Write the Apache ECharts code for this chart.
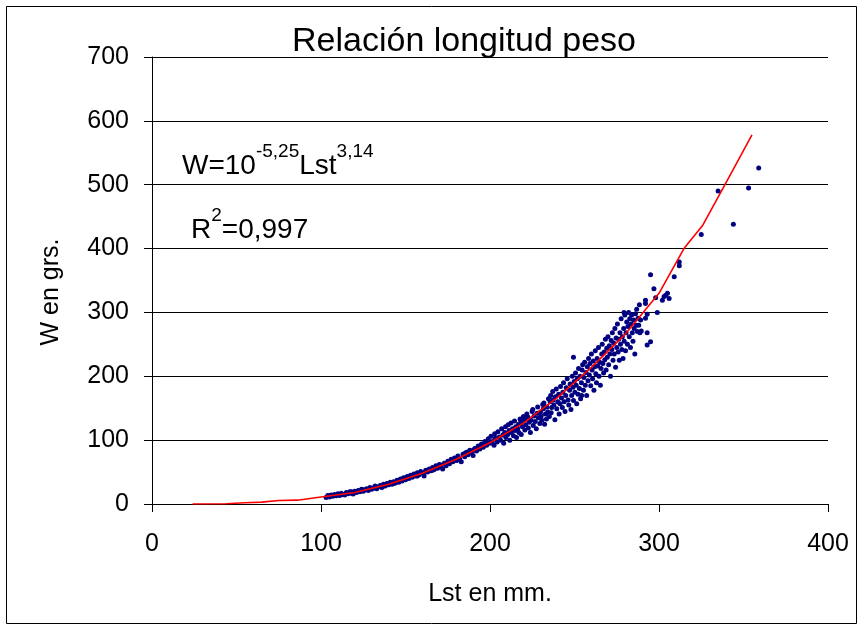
<!DOCTYPE html>
<html>
<head>
<meta charset="utf-8">
<script src="https://cdn.jsdelivr.net/npm/echarts@6/dist/echarts.min.js"></script>
<style>
  html, body { margin: 0; padding: 0; background: #fff; }
  #chart { width: 862px; height: 630px; }
</style>
</head>
<body>
<div id="chart"></div>
<script>
// ticks
const xTicks = [0, 100, 200, 300, 400];
const yTicks = [0, 100, 200, 300, 400, 500, 600, 700];

// observed fish: [Lst mm, W grs]
const observed = [
  [103,10],[104,13.5],[105,11],[106,14],[107,12],[108,15],[109,13],[110,16],[111,13.5],[112,17],
  [113,15],[114,14],[115,18],[116,16],[117,19],[118,17],[119,15.5],[120,20],[121,18],[122,21],
  [123,19],[124,23],[125,20],[126,22],[127,24],[128,21],[129,26],[130,23],[131,25],[132,28],
  [133,24],[134,27],[135,29],[136,26],[137,31],[138,28],[139,32],[140,30],[141,34],[142,31],
  [143,35],[144,33],[145,37],[146,34],[147,39],[148,36],[149,41],[150,38],
  [105,13],[112,14.5],[118,19],[125,22.5],[132,25],[137,28],[143,32],[148,39],
  [151,43],[152,40],[153,45],[154,42],[155,47],[156,44],[157,49],[158,46],[159,51],[160,48],
  [161,44],[162,53],[163,50],[164,55],[165,52],[166,57],[167,54],[168,60],[169,56],[170,62],
  [171,58],[172,55],[173,64],[174,60],[175,67],[176,63],[177,70],[178,66],[179,72],[180,68],
  [181,75],[182,71],[183,66],[184,78],[185,74],[186,81],[187,77],[188,84],[189,80],[190,76],
  [191,87],[192,83],[193,91],[194,86],[195,94],[196,89],[197,98],[198,92],[199,102],[200,95],
  [152,42],[157,44],[161,49],[166,53],[171,61],[176,66],[181,69],[185,79],[190,84],[194,90],[198,97],
  [201.3,98],[200.6,106],[202.4,92],[203.1,103],[202.8,110],[204.2,97],[205.5,105],[204.7,113],[206.3,100],[207.6,108],
  [206.9,118],[208.1,95],[208.7,112],[209.4,104],[209.2,121],[210.5,109],[211.3,115],[211.7,100],[210.8,124],[212.6,112],
  [213.3,118],[213.9,107],[212.4,127],[214.8,115],[215.2,121],[215.7,104],[214.5,130],[216.4,118],[217.1,112],[216.9,125],
  [217.8,133],[218.5,109],[219.2,121],[218.3,128],[219.8,137],[220.6,116],[221.1,124],[220.4,132],[221.8,141],[222.7,119],
  [223.2,128],[222.5,136],[223.9,112],[224.3,131],[224.9,145],[225.6,123],[226.1,138],[225.3,148],[226.8,129],[227.4,118],
  [227.9,142],[228.6,135],[228.2,152],[229.5,126],[229.9,144],[230.3,138],[231.2,156],[230.7,131],
  [231.6,149],[232.3,125],[231.9,158],[232.8,141],[233.4,133],[233.7,152],[234.6,165],[234.2,144],[235.1,137],[235.6,160],
  [235.9,170],[236.5,151],[236.2,143],[237.3,163],[237.1,176],[237.8,155],[238.4,132],[238.7,168],[239.5,149],[239.2,180],
  [240.1,160],[240.6,172],[240.9,141],[241.4,157],[241.7,184],[242.3,166],[242.8,151],[243.1,175],[243.5,190],[243.9,160],
  [244.4,145],[244.8,170],[245.1,182],[245.7,196],[246.2,163],[246.6,155],[247.1,178],[247.4,188],[247.9,148],[248.3,170],
  [248.7,200],[249.1,183],[249.4,162],[249.8,192],[250.2,175],[250.6,205],[251.0,186],[251.3,157],[251.7,196],[252.1,172],
  [252.4,212],[249.4,230],[252.9,181],[253.3,200],[253.6,165],[254.1,190],[254.5,210],[254.8,218],[255.3,178],[255.6,198],
  [256.0,222],[256.4,186],[256.8,206],[257.2,170],[257.6,215],[258.0,193],[258.3,228],[254.2,170],[258.8,202],[259.2,220],
  [259.6,185],[260.0,235],[260.4,210],[260.7,196],[261.1,224],[261.5,178],[261.9,215],[262.3,240],[262.6,204],[263.0,190],
  [263.4,228],[263.8,216],[264.2,245],[264.5,200],[264.9,222],[265.3,186],[265.7,212],[266.1,235],
  [266.4,250],[266.8,220],[267.2,205],[267.6,238],[267.9,226],[268.3,258],[268.7,210],[269.1,244],[269.4,230],[269.8,262],
  [270.2,218],[270.6,248],[270.9,235],[271.3,200],[271.7,256],[272.1,242],[272.4,268],[272.8,225],[273.2,252],[273.5,235],
  [273.9,275],[274.3,214],[274.6,260],[275.0,245],[275.4,282],[275.8,238],[276.1,258],[276.5,225],[276.9,268],[277.2,250],
  [277.6,290],[278.0,242],[278.3,262],[278.7,228],[279.1,275],[279.4,255],[279.8,296],[280.2,240],[280.5,268],[280.9,285],
  [281.3,250],[281.6,278],[282.0,300],[282.4,262],[282.7,290],[283.1,245],[283.5,282],[283.8,296],[284.2,268],[279.3,300],
  [284.6,255],[285.0,288],[285.3,275],[285.7,235],[286.1,298],[286.5,280],[286.8,305],[287.2,270],[287.6,291],[288.0,280],
  [288.4,312],[288.7,268],[289.1,288],[289.5,271],
  [292,319],[292,314],[292,291],[293,297],[293,268],[293,249],[295,254],[295,359],[297,337],[298,323],
  [299,300],[302,319],[303,325],[304,327],[305,330],[306,322],[309,356],[312,379],[312,373],[325,422],
  [335,490],[344,438],[353,495],[359,526]
];

// fitted curve as drawn
const fitted = [
  [24,0],[44,0.5],[55,2],[65,3],[75,5.5],[86,6],[100,11],[120,18],[140,31],[160,48],
  [180,70],[200,96],[220,127],[240,167],[260,214],[280,266],[300,330],[315,401],[326,437],
  [340,505],[355,578]
];

const chart = echarts.init(document.getElementById('chart'));
const font = '"Liberation Sans", Arial, sans-serif';

chart.setOption({
  animation: false,
  backgroundColor: '#fff',
  title: {
    text: 'Relación longitud peso',
    left: 459, top: 20, textAlign: 'center',
    textStyle: { fontFamily: font, fontSize: 34, fontWeight: 'normal', color: '#000' }
  },
  grid: { left: 152, right: 34, top: 57, bottom: 126 },
  xAxis: {
    type: 'value', min: 0, max: 400, interval: 100,
    name: 'Lst en mm.', nameLocation: 'middle', nameGap: 78,
    nameTextStyle: { fontFamily: font, fontSize: 25, color: '#000' },
    axisLine: { show: true, onZero: false, lineStyle: { color: '#000', width: 1 } },
    axisTick: { show: true, length: 8, lineStyle: { color: '#000' } },
    axisLabel: { fontFamily: font, fontSize: 25, color: '#000', margin: 28 },
    splitLine: { show: false }
  },
  yAxis: {
    type: 'value', min: 0, max: 700, interval: 100,
    axisLine: { show: true, lineStyle: { color: '#000', width: 1 } },
    axisTick: { show: true, length: 8, lineStyle: { color: '#000' } },
    axisLabel: { fontFamily: font, fontSize: 25, color: '#000', margin: 23 },
    splitLine: { show: true, lineStyle: { color: '#000', width: 1 } }
  },
  series: [
    {
      type: 'scatter', data: observed, symbol: 'circle', symbolSize: 5,
      itemStyle: { color: '#000080', opacity: 1 }, z: 2
    },
    {
      type: 'line', data: fitted, showSymbol: false, smooth: false,
      lineStyle: { color: '#ff0000', width: 1.6 }, z: 3
    }
  ],
  graphic: [
    {
      type: 'rect', shape: { x: 6.5, y: 6.5, width: 850, height: 617 },
      style: { fill: 'none', stroke: '#000', lineWidth: 1 }, silent: true
    },
    {
      // y axis title, placed like the original (a bit below the plot middle)
      type: 'text', x: 51, y: 292, rotation: Math.PI / 2,
      style: {
        text: 'W en grs.', fontFamily: font, fontSize: 25, fill: '#000',
        align: 'center', verticalAlign: 'middle'
      }
    },
    {
      type: 'text', left: 182, top: 142,
      style: {
        text: '{b|W=10}{s|-5,25}{b|Lst}{s|3,14}',
        rich: {
          b: { fontFamily: font, fontSize: 28, color: '#000', verticalAlign: 'bottom', lineHeight: 38 },
          s: { fontFamily: font, fontSize: 19, color: '#000', verticalAlign: 'top', lineHeight: 38, padding: [0, 0, 18, 0] }
        }
      }
    },
    {
      type: 'text', left: 191, top: 206,
      style: {
        text: '{b|R}{s|2}{b|=0,997}',
        rich: {
          b: { fontFamily: font, fontSize: 28, color: '#000', verticalAlign: 'bottom', lineHeight: 38 },
          s: { fontFamily: font, fontSize: 19, color: '#000', verticalAlign: 'top', lineHeight: 38, padding: [0, 0, 18, 0] }
        }
      }
    }
  ]
});
</script>
</body>
</html>
